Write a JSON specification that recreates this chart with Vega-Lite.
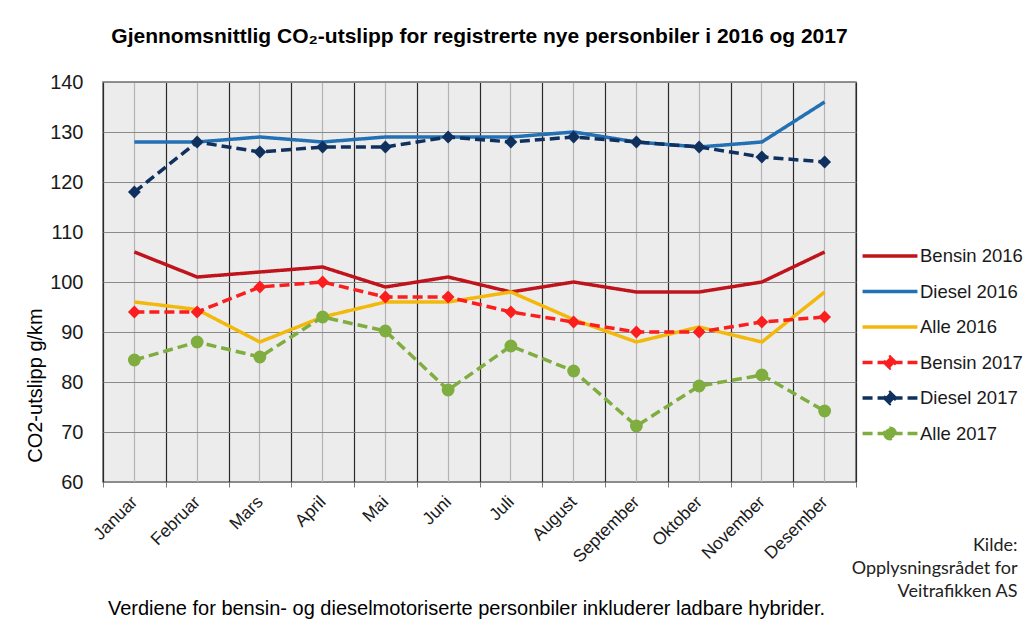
{
  "$schema": "https://vega.github.io/schema/vega-lite/v6.json",
  "autosize": "none",
  "width": 753,
  "height": 400,
  "padding": {"left": 103, "top": 82, "right": 174, "bottom": 148},
  "background": "white",
  "title": {
    "text": "Gjennomsnittlig CO₂-utslipp for registrerte nye personbiler i 2016 og 2017",
    "font": "Liberation Sans",
    "fontSize": 21,
    "fontWeight": "bold",
    "color": "#000000",
    "anchor": "middle",
    "baseline": "alphabetic",
    "offset": 8
  },
  "config": {
    "view": {"fill": "#ececec", "stroke": "#6e6e6e", "strokeWidth": 1.5},
    "font": "Liberation Sans"
  },
  "data": {
    "values": [
      {"month": "Januar", "series": "Bensin 2016", "value": 106},
      {"month": "Februar", "series": "Bensin 2016", "value": 101},
      {"month": "Mars", "series": "Bensin 2016", "value": 102},
      {"month": "April", "series": "Bensin 2016", "value": 103},
      {"month": "Mai", "series": "Bensin 2016", "value": 99},
      {"month": "Juni", "series": "Bensin 2016", "value": 101},
      {"month": "Juli", "series": "Bensin 2016", "value": 98},
      {"month": "August", "series": "Bensin 2016", "value": 100},
      {"month": "September", "series": "Bensin 2016", "value": 98},
      {"month": "Oktober", "series": "Bensin 2016", "value": 98},
      {"month": "November", "series": "Bensin 2016", "value": 100},
      {"month": "Desember", "series": "Bensin 2016", "value": 106},
      {"month": "Januar", "series": "Diesel 2016", "value": 128},
      {"month": "Februar", "series": "Diesel 2016", "value": 128},
      {"month": "Mars", "series": "Diesel 2016", "value": 129},
      {"month": "April", "series": "Diesel 2016", "value": 128},
      {"month": "Mai", "series": "Diesel 2016", "value": 129},
      {"month": "Juni", "series": "Diesel 2016", "value": 129},
      {"month": "Juli", "series": "Diesel 2016", "value": 129},
      {"month": "August", "series": "Diesel 2016", "value": 130},
      {"month": "September", "series": "Diesel 2016", "value": 128},
      {"month": "Oktober", "series": "Diesel 2016", "value": 127},
      {"month": "November", "series": "Diesel 2016", "value": 128},
      {"month": "Desember", "series": "Diesel 2016", "value": 136},
      {"month": "Januar", "series": "Alle 2016", "value": 96},
      {"month": "Februar", "series": "Alle 2016", "value": 94.5},
      {"month": "Mars", "series": "Alle 2016", "value": 88},
      {"month": "April", "series": "Alle 2016", "value": 93},
      {"month": "Mai", "series": "Alle 2016", "value": 96},
      {"month": "Juni", "series": "Alle 2016", "value": 96},
      {"month": "Juli", "series": "Alle 2016", "value": 98},
      {"month": "August", "series": "Alle 2016", "value": 92.5},
      {"month": "September", "series": "Alle 2016", "value": 88},
      {"month": "Oktober", "series": "Alle 2016", "value": 91},
      {"month": "November", "series": "Alle 2016", "value": 88},
      {"month": "Desember", "series": "Alle 2016", "value": 98},
      {"month": "Januar", "series": "Bensin 2017", "value": 94},
      {"month": "Februar", "series": "Bensin 2017", "value": 94},
      {"month": "Mars", "series": "Bensin 2017", "value": 99},
      {"month": "April", "series": "Bensin 2017", "value": 100},
      {"month": "Mai", "series": "Bensin 2017", "value": 97},
      {"month": "Juni", "series": "Bensin 2017", "value": 97},
      {"month": "Juli", "series": "Bensin 2017", "value": 94},
      {"month": "August", "series": "Bensin 2017", "value": 92},
      {"month": "September", "series": "Bensin 2017", "value": 90},
      {"month": "Oktober", "series": "Bensin 2017", "value": 90},
      {"month": "November", "series": "Bensin 2017", "value": 92},
      {"month": "Desember", "series": "Bensin 2017", "value": 93},
      {"month": "Januar", "series": "Diesel 2017", "value": 118},
      {"month": "Februar", "series": "Diesel 2017", "value": 128},
      {"month": "Mars", "series": "Diesel 2017", "value": 126},
      {"month": "April", "series": "Diesel 2017", "value": 127},
      {"month": "Mai", "series": "Diesel 2017", "value": 127},
      {"month": "Juni", "series": "Diesel 2017", "value": 129},
      {"month": "Juli", "series": "Diesel 2017", "value": 128},
      {"month": "August", "series": "Diesel 2017", "value": 129},
      {"month": "September", "series": "Diesel 2017", "value": 128},
      {"month": "Oktober", "series": "Diesel 2017", "value": 127},
      {"month": "November", "series": "Diesel 2017", "value": 125},
      {"month": "Desember", "series": "Diesel 2017", "value": 124},
      {"month": "Januar", "series": "Alle 2017", "value": 84.4},
      {"month": "Februar", "series": "Alle 2017", "value": 88},
      {"month": "Mars", "series": "Alle 2017", "value": 85},
      {"month": "April", "series": "Alle 2017", "value": 93},
      {"month": "Mai", "series": "Alle 2017", "value": 90.2},
      {"month": "Juni", "series": "Alle 2017", "value": 78.4},
      {"month": "Juli", "series": "Alle 2017", "value": 87.2},
      {"month": "August", "series": "Alle 2017", "value": 82.2},
      {"month": "September", "series": "Alle 2017", "value": 71.2},
      {"month": "Oktober", "series": "Alle 2017", "value": 79.2},
      {"month": "November", "series": "Alle 2017", "value": 81.4},
      {"month": "Desember", "series": "Alle 2017", "value": 74.2}
    ]
  },
  "resolve": {"axis": {"x": "independent", "y": "independent"}},
  "layer": [
    {
      "mark": {"type": "line", "strokeWidth": 3.5},
      "encoding": {
        "x": {
          "field": "month",
          "type": "ordinal",
          "sort": ["Januar", "Februar", "Mars", "April", "Mai", "Juni", "Juli", "August", "September", "Oktober", "November", "Desember"],
          "scale": {"type": "band", "paddingInner": 0, "paddingOuter": 0},
          "axis": {
            "orient": "bottom",
            "tickBand": "extent",
            "grid": true,
            "gridColor": "#2a2a2a",
            "gridWidth": 1.2,
            "gridOpacity": 1,
            "domain": false,
            "ticks": true,
            "tickColor": "#777777",
            "tickSize": 5,
            "labelAngle": -45,
            "labelAlign": "right",
            "labelBaseline": "middle",
            "labelFontSize": 17.5,
            "labelColor": "#1a1a1a",
            "labelPadding": 12,
            "title": "Verdiene for bensin- og dieselmotoriserte personbiler inkluderer ladbare hybrider.",
            "titleFontSize": 20,
            "titleFontWeight": "normal",
            "titleColor": "#000000",
            "titleX": 363,
            "titleY": 132,
            "titleAlign": "center",
            "titleBaseline": "alphabetic"
          }
        },
        "y": {
          "field": "value",
          "type": "quantitative",
          "scale": {"domain": [60, 140], "nice": false, "zero": false},
          "axis": {
            "orient": "left",
            "values": [60, 70, 80, 90, 100, 110, 120, 130, 140],
            "grid": true,
            "gridColor": "#8a8a8a",
            "gridWidth": 1.2,
            "gridOpacity": 1,
            "domain": false,
            "ticks": false,
            "labelFontSize": 20,
            "labelColor": "#1a1a1a",
            "labelPadding": 20,
            "title": "CO2-utslipp g/km",
            "titleFontSize": 20,
            "titleFontWeight": "normal",
            "titleColor": "#000000",
            "titleX": -68,
            "titleY": 303,
            "titleAlign": "center",
            "titleBaseline": "middle"
          }
        },
        "color": {
          "field": "series",
          "type": "nominal",
          "scale": {
            "domain": ["Bensin 2016", "Diesel 2016", "Alle 2016", "Bensin 2017", "Diesel 2017", "Alle 2017"],
            "range": ["#c0141c", "#2370b4", "#f2b90c", "#fa1e1e", "#10305e", "#7fad3f"]
          },
          "legend": {
            "title": null,
            "orient": "none",
            "legendX": 776,
            "legendY": 163,
            "padding": 0,
            "gridAlign": "all",
            "symbolSize": 324,
            "symbolStrokeWidth": 3.5,
            "rowPadding": 9.5,
            "labelFontSize": 18.5,
            "labelColor": "#1a1a1a",
            "labelOffset": 19,
            "encode": {
              "symbols": {
                "update": {
                  "shape": {"signal": "datum.value === 'Alle 2017' ? 'M-3.05,0H3.05M-0.58,0A0.58,0.58,0,1,0,0.58,0A0.58,0.58,0,1,0,-0.58,0Z' : ((datum.value === 'Bensin 2017' || datum.value === 'Diesel 2017') ? 'M-3.05,0H3.05M0,-0.6L0.6,0L0,0.6L-0.6,0Z' : 'M-3.05,0H3.05')"},
                  "fill": {"signal": "scale('color', datum.value)"}
                }
              }
            }
          }
        },
        "strokeDash": {
          "field": "series",
          "type": "nominal",
          "scale": {
            "domain": ["Bensin 2016", "Diesel 2016", "Alle 2016", "Bensin 2017", "Diesel 2017", "Alle 2017"],
            "range": [[1, 0], [1, 0], [1, 0], [10, 5], [10, 5], [10, 5]]
          }
        }
      }
    },
    {
      "transform": [{"filter": "indexof(datum.series, '2017') >= 0"}],
      "mark": {"type": "point", "filled": true, "opacity": 1, "size": 165},
      "encoding": {
        "x": {
          "field": "month",
          "type": "ordinal",
          "sort": ["Januar", "Februar", "Mars", "April", "Mai", "Juni", "Juli", "August", "September", "Oktober", "November", "Desember"],
          "axis": {
            "orient": "top",
            "bandPosition": 0.5,
            "grid": true,
            "gridColor": "#b4b4b4",
            "gridWidth": 1.2,
            "gridOpacity": 1,
            "domain": false,
            "ticks": false,
            "labels": false,
            "title": null
          }
        },
        "y": {
          "field": "value",
          "type": "quantitative",
          "axis": {
            "orient": "right",
            "grid": false,
            "domain": false,
            "ticks": false,
            "labels": false,
            "title": ["Kilde:", "Opplysningsrådet for", "Veitrafikken AS"],
            "titleFont": "Lato",
            "titleFontSize": 18,
            "titleFontWeight": "normal",
            "titleColor": "#222222",
            "titleAngle": 0,
            "titleAlign": "right",
            "titleBaseline": "alphabetic",
            "titleLineHeight": 23,
            "titleX": 161,
            "titleY": 468
          }
        },
        "color": {"field": "series", "type": "nominal"},
        "shape": {
          "field": "series",
          "type": "nominal",
          "scale": {"domain": ["Bensin 2017", "Diesel 2017", "Alle 2017"], "range": ["diamond", "diamond", "circle"]},
          "legend": null
        }
      }
    }
  ]
}
